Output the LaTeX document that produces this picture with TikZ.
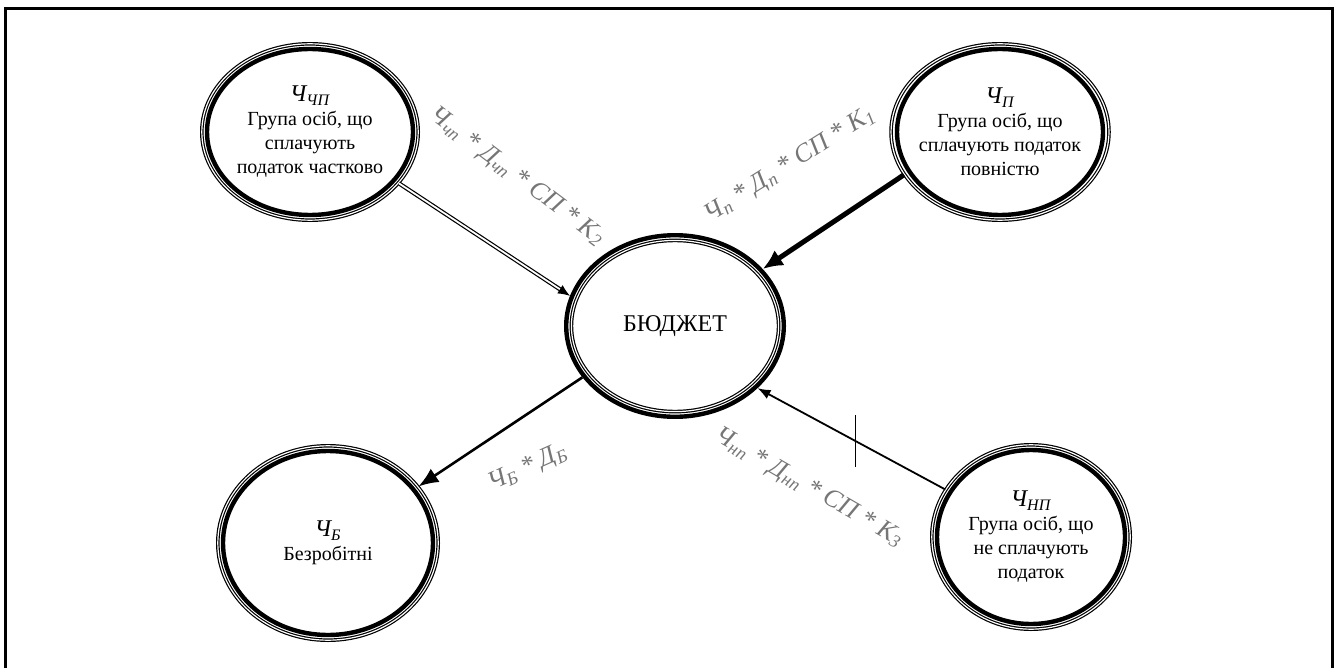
\documentclass[tikz,border=0pt]{standalone}
\usepackage{fontspec}
\setmainfont{Liberation Serif}
\usetikzlibrary{shapes.geometric, arrows.meta, positioning}
\definecolor{lblgray}{RGB}{118,118,118}

\begin{document}
\begin{tikzpicture}[x=0.5pt, y=-0.5pt,
    grp/.style={ellipse, draw, double, line width=0.6pt, double distance=0.6pt,
                inner sep=-2pt, align=center, font=\fontsize{10}{12}\selectfont},
    budget/.style={ellipse, draw, line width=2.2pt, inner sep=0pt,
                minimum width=108.8pt, minimum height=90.8pt, font=\fontsize{12}{14}\selectfont},
    lbl/.style={text=lblgray, inner sep=0pt, font=\fontsize{13}{15}\selectfont\itshape},
    part/.style={-{Latex[length=6pt,width=5pt]}, double, line width=0.6pt, double distance=0.9pt},
    full/.style={-{Latex[length=10pt,width=9pt]}, line width=2.5pt},
    none/.style={-{Latex[length=6.5pt,width=5pt]}, line width=0.9pt},
    benefit/.style={-{Latex[length=10pt,width=8pt]}, line width=1.3pt}]
    \useasboundingbox (0,0) rectangle (1336,668);
    % outer frame
    \draw[line width=1.5pt] (5,668) |- (1332,9) -- (1332,668);

    % budget in the middle
    \node[budget] (bud) at (675,326) {БЮДЖЕТ};
    \draw[double, line width=0.6pt, double distance=0.6pt] (bud.center) ellipse [x radius=51.8pt, y radius=42.8pt];

    % groups of persons
    \node[grp, minimum width=108.2pt, minimum height=88.2pt] (nchp) at (310,132)
        {{\large\itshape Ч\textsubscript{ЧП}}\\Група осіб, що\\сплачують\\податок частково};
    \node[grp, minimum width=108.2pt, minimum height=88.2pt] (np) at (1000,132)
        {{\large\itshape Ч\textsubscript{П}}\\Група осіб, що\\сплачують податок\\повністю};
    \node[grp, minimum width=110.2pt, minimum height=97.2pt] (nb) at (328,543)
        {{\large\itshape Ч\textsubscript{Б}}\\Безробітні};
    \node[grp, minimum width=99.2pt, minimum height=92.2pt] (nnp) at (1031,537)
        {{\large\itshape Ч\textsubscript{НП}}\\Група осіб, що\\не сплачують\\податок};

    % thick inner rings
    \draw[line width=2.2pt] (nchp.center) ellipse [x radius=51.5pt, y radius=41.5pt];
    \draw[line width=2.2pt] (np.center) ellipse [x radius=51.5pt, y radius=41.5pt];
    \draw[line width=2.2pt] (nb.center) ellipse [x radius=52.5pt, y radius=46pt];
    \draw[line width=2.2pt] (nnp.center) ellipse [x radius=47pt, y radius=43.5pt];

    % flows
    \draw[part] (nchp.-30) -- (bud.164);
    \draw[full] (np.204) -- (bud.33);
    \draw[none] (nnp.151) -- coordinate[pos=0.48] (tick) (bud.-37);
    \draw (tick) ++(0,-26) -- ++(0,52);
    \draw[benefit] (bud.209) -- (nb.32);

    % flow labels
    \node[lbl, rotate=-37] (lchp) at (517,177) {Ч\textsubscript{чп} * Д\textsubscript{чп} * СП * К\textsubscript{2}};
    \node[lbl, rotate=32] (lp) at (790,165) {Ч\textsubscript{п} * Д\textsubscript{п} * СП * К\textsubscript{1}};
    \node[lbl, rotate=-30] (lnp) at (809,488) {Ч\textsubscript{нп} * Д\textsubscript{нп} * СП * К\textsubscript{3}};
    \node[lbl, rotate=24] (lb) at (528,468) {Ч\textsubscript{Б} * Д\textsubscript{Б}};
\end{tikzpicture}
\end{document}
